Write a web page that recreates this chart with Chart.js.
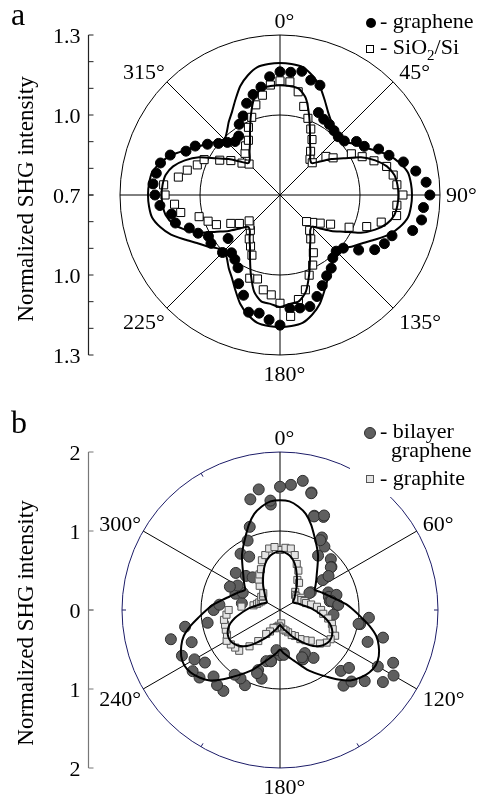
<!DOCTYPE html>
<html>
<head>
<meta charset="utf-8">
<script src="https://cdn.jsdelivr.net/npm/chart.js@4.4.1/dist/chart.umd.min.js"></script>
<style>
  html, body { margin: 0; padding: 0; background: #fff; }
  canvas { display: block; }
</style>
</head>
<body>
<canvas id="chartA" width="478" height="400"></canvas>
<canvas id="chartB" width="478" height="401"></canvas>
<script>
// polar angle grid (degrees, clockwise from top), shared by both panels
const angles = [0,5,10,15,20,25,30,35,40,45,50,55,60,65,70,75,80,85,
  90,95,100,105,110,115,120,125,130,135,140,145,150,155,160,165,170,175,
  180,185,190,195,200,205,210,215,220,225,230,235,240,245,250,255,260,265,
  270,275,280,285,290,295,300,305,310,315,320,325,330,335,340,345,350,355];

// panel a
const graphene = [1.162,1.162,1.171,1.146,1.138,1.041,1.028,1.023,1.015,
  1.009,1.015,1.050,1.065,1.108,1.135,1.179,1.217,1.250,
  1.262,1.240,1.239,1.215,1.147,1.132,1.110,1.060,1.010,
  0.998,1.008,1.035,1.050,1.075,1.105,1.133,1.130,1.127,
  1.188,1.170,1.150,1.155,1.100,1.067,1.015,0.995,0.983,
  1.005,0.954,1.016,1.010,1.039,1.062,1.106,1.113,1.152,
  1.169,1.178,1.171,1.164,1.138,1.089,1.067,1.032,1.001,
  0.979,0.962,0.970,1.006,1.027,1.066,1.090,1.111,1.145];
const sio2 = [1.128,1.126,1.093,1.044,1.006,0.973,0.940,0.900,0.875,
  0.871,0.925,0.943,1.009,1.040,1.075,1.114,1.131,1.140,
  1.161,1.140,1.144,1.093,1.046,0.986,0.919,0.884,0.860,
  0.841,0.873,0.901,0.950,0.990,1.020,1.068,1.098,1.157,
  1.106,1.076,1.061,1.026,1.032,0.949,0.921,0.901,0.873,
  0.860,0.851,0.886,0.913,0.963,0.987,1.014,1.078,1.097,
  1.131,1.138,1.087,1.060,1.030,1.014,0.961,0.925,0.886,
  0.864,0.904,0.925,0.937,0.980,1.010,1.050,1.080,1.114];
const grapheneFit = [1.195,1.193,1.187,1.165,1.135,1.095,1.060,1.035,1.010,
  0.995,1.010,1.035,1.060,1.095,1.135,1.165,1.187,1.193,
  1.195,1.193,1.187,1.165,1.135,1.095,1.060,1.035,1.010,
  0.995,1.010,1.035,1.060,1.095,1.135,1.165,1.187,1.193,
  1.195,1.193,1.187,1.165,1.135,1.095,1.060,1.035,1.010,
  0.995,1.010,1.035,1.060,1.095,1.135,1.165,1.187,1.193,
  1.195,1.193,1.187,1.165,1.135,1.095,1.060,1.035,1.010,
  0.995,1.010,1.035,1.060,1.095,1.135,1.165,1.187,1.193];
const sio2Fit = [1.112,1.110,1.105,1.075,1.019,0.966,0.925,0.899,0.876,
  0.869,0.895,0.935,0.975,1.035,1.080,1.115,1.135,1.142,
  1.144,1.142,1.135,1.115,1.080,1.035,0.975,0.935,0.895,
  0.869,0.876,0.899,0.925,0.966,1.019,1.075,1.105,1.110,
  1.120,1.110,1.105,1.075,1.019,0.966,0.925,0.899,0.876,
  0.869,0.895,0.935,0.975,1.035,1.080,1.115,1.135,1.142,
  1.144,1.142,1.135,1.115,1.080,1.035,0.975,0.935,0.895,
  0.869,0.876,0.899,0.925,0.966,1.019,1.075,1.105,1.110];
const ticksA = [0.7, 1.0, 1.3];
const minorTicksA = [0.8, 0.9, 1.1, 1.2];
const angleLabelsA = [0, 45, 90, 135, 180, 225, 315];

// panel b
const bilayer = [1.56,1.59,1.66,1.54,1.27,1.30,1.06,0.98,null,
  0.91,0.85,0.66,0.45,null,0.65,0.64,0.64,0.72,
  null,0.68,1.03,1.35,1.18,1.58,1.66,1.59,1.40,
  1.09,1.25,0.74,0.63,0.69,null,null,null,0.55,
  0.57,0.51,0.65,0.67,0.81,1.05,1.00,1.25,1.24,
  1.19,1.33,1.16,1.25,1.37,1.19,1.43,1.22,null,
  0.84,0.77,0.49,null,0.60,0.52,0.62,null,0.73,
  0.61,0.54,0.87,0.78,0.97,1.12,1.45,1.55,1.34];
const bilayerExtra = [null,null,null,1.53,1.26,1.32,1.02,0.84,null,
  null,0.84,0.75,0.43,null,null,0.74,0.66,0.74,
  null,1.13,1.01,null,null,null,1.43,null,1.14,
  1.28,null,null,null,0.66,null,null,null,0.57,
  null,null,0.66,0.90,0.85,null,null,1.00,null,
  null,null,1.35,null,null,null,null,0.93,null,
  null,null,null,null,null,0.70,null,null,null,
  null,null,null,null,null,null,null,null,1.39];
const graphite = [0.76,0.79,0.79,0.72,0.62,0.55,0.44,0.42,0.30,
  0.27,0.27,0.25,0.31,0.30,0.33,0.34,0.40,0.47,
  0.52,0.55,0.62,0.68,0.71,0.77,0.74,0.72,0.66,
  0.55,0.50,0.45,0.38,0.35,0.30,0.27,0.25,0.17,
  0.22,0.20,0.22,0.24,0.24,0.30,0.35,0.48,0.60,
  0.73,0.74,0.76,0.78,0.74,0.73,0.72,0.72,0.68,
  0.65,0.49,0.34,0.30,0.28,0.26,0.25,0.29,0.28,
  0.30,0.40,0.47,0.52,0.57,0.67,0.72,0.79,0.80];
const bilayerFit = [1.39,1.38,1.33,1.26,1.15,1.03,0.93,0.84,0.74,0.66,0.60,0.55,
  0.51,0.55,0.60,0.66,0.74,0.84,0.93,1.03,1.15,1.26,1.33,1.38,
  1.40,1.38,1.33,1.26,1.15,1.03,0.93,0.84,0.74,0.66,0.60,0.55,
  0.50,0.55,0.60,0.66,0.74,0.84,0.93,1.03,1.15,1.26,1.33,1.38,
  1.40,1.38,1.33,1.26,1.15,1.03,0.93,0.84,0.74,0.66,0.60,0.55,
  0.51,0.55,0.60,0.66,0.74,0.84,0.93,1.03,1.15,1.26,1.33,1.38];
const graphiteFit = [0.74,0.73,0.70,0.65,0.58,0.50,0.43,0.37,0.31,0.27,0.24,0.21,
  0.19,0.21,0.24,0.27,0.31,0.37,0.43,0.50,0.58,0.65,0.70,0.73,
  0.74,0.73,0.70,0.65,0.58,0.50,0.43,0.37,0.31,0.27,0.24,0.21,
  0.19,0.21,0.24,0.27,0.31,0.37,0.43,0.50,0.58,0.65,0.70,0.73,
  0.74,0.73,0.70,0.65,0.58,0.50,0.43,0.37,0.31,0.27,0.24,0.21,
  0.19,0.21,0.24,0.27,0.31,0.37,0.43,0.50,0.58,0.65,0.70,0.73];
const ticksB = [0, 1, 2];
const angleLabelsB = [0, 60, 120, 180, 240, 300];
const rimTicksB = [30, 90, 150, 210, 270, 330];

const FONT = '"Liberation Serif", "Times New Roman", serif';
const NAVY = '#1c1c68';
const TITLE = 'Normalized SHG intensity';

function fitLine(data) {
  return { data, showLine: true, fill: false, borderColor: '#000', borderWidth: 2,
    pointRadius: 0, tension: 0.25 };
}
function markers(data, style, fillColor, edge, radius) {
  return { data, showLine: false, fill: false, pointStyle: style, pointRadius: radius,
    pointBackgroundColor: fillColor, pointBorderColor: edge, pointBorderWidth: 1 };
}

// draws angle labels, the side intensity axis, title, panel letter and legend
function decorations(panel) {
  return {
    id: 'decor' + panel.letter,
    afterDraw(chart) {
      const ctx = chart.ctx;
      const r = chart.scales.r;
      const R = r.drawingArea;
      const yc = r.yCenter;
      ctx.save();

      // small rim ticks
      if (panel.rimTicks) {
        ctx.strokeStyle = NAVY; ctx.lineWidth = 1;
        panel.rimTicks.forEach(a => {
          const i = angles.indexOf(a);
          const p1 = r.getPointPosition(i, R), p2 = r.getPointPosition(i, R - 4);
          ctx.beginPath(); ctx.moveTo(p1.x, p1.y); ctx.lineTo(p2.x, p2.y); ctx.stroke();
        });
      }

      // angle labels
      ctx.fillStyle = '#000';
      ctx.font = '22px ' + FONT;
      ctx.textBaseline = 'alphabetic';
      panel.angleLabels.forEach(a => {
        const i = angles.indexOf(a);
        const p = r.getPointPosition(i, R);
        const s = Math.sin(a * Math.PI / 180), c = Math.cos(a * Math.PI / 180);
        const y = c > 0 ? p.y + 7 - 14 * c : p.y + 7 - 19 * c;
        let x;
        if (s > 0.1) { ctx.textAlign = 'left'; x = p.x + 6; }
        else if (s < -0.1) { ctx.textAlign = 'right'; x = p.x - 2; }
        else { ctx.textAlign = 'left'; x = p.x - ctx.measureText(String(a)).width / 2; }
        ctx.fillText(a + '°', x, y);
      });

      // side axis
      const ax = 88.5;
      ctx.strokeStyle = panel.axisColor; ctx.lineWidth = 1.2;
      ctx.beginPath(); ctx.moveTo(ax, yc - R); ctx.lineTo(ax, yc + R); ctx.stroke();
      ctx.lineWidth = 1;
      panel.ticks.concat(panel.minorTicks).forEach(v => {
        const d = r.getDistanceFromCenterForValue(v);
        [yc - d, yc + d].forEach(y => {
          ctx.beginPath(); ctx.moveTo(ax, y); ctx.lineTo(ax + 5, y); ctx.stroke();
        });
      });
      ctx.textAlign = 'right';
      panel.ticks.forEach(v => {
        const d = r.getDistanceFromCenterForValue(v);
        const txt = panel.fmt(v);
        ctx.fillText(txt, ax - 8, yc - d + 8);
        if (d > 0) ctx.fillText(txt, ax - 8, yc + d + 8);
      });

      // axis title
      ctx.save();
      ctx.font = '23px ' + FONT;
      ctx.translate(33, yc + panel.titleShift);
      ctx.rotate(-Math.PI / 2);
      ctx.textAlign = 'center';
      ctx.fillText(TITLE, 0, 0);
      ctx.restore();

      // panel letter
      ctx.font = '32px ' + FONT;
      ctx.textAlign = 'left';
      ctx.fillText(panel.letter, 11, panel.letterY);

      panel.legend(ctx);
      ctx.restore();
    }
  };
}

function legendA(ctx) {
  ctx.font = '22px ' + FONT;
  ctx.textAlign = 'left';
  ctx.fillStyle = '#000';
  ctx.beginPath(); ctx.arc(371, 23, 5, 0, 2 * Math.PI); ctx.fill();
  ctx.fillText('- graphene', 380, 28);
  ctx.fillStyle = '#fff'; ctx.strokeStyle = '#000'; ctx.lineWidth = 1;
  ctx.fillRect(366.5, 45.5, 7, 7); ctx.strokeRect(366.5, 45.5, 7, 7);
  ctx.fillStyle = '#000';
  let x = 380;
  ctx.fillText('- SiO', x, 54); x += ctx.measureText('- SiO').width;
  ctx.font = '15px ' + FONT;
  ctx.fillText('2', x, 60); x += ctx.measureText('2').width;
  ctx.font = '22px ' + FONT;
  ctx.fillText('/Si', x, 54);
}

function legendB(ctx) {
  ctx.fillStyle = '#fff';
  ctx.fillRect(350, 20, 128, 77);
  ctx.font = '22px ' + FONT;
  ctx.textAlign = 'left';
  ctx.fillStyle = '#5f5f5f'; ctx.strokeStyle = '#2e2e2e'; ctx.lineWidth = 1;
  ctx.beginPath(); ctx.arc(370, 33, 5.5, 0, 2 * Math.PI); ctx.fill(); ctx.stroke();
  ctx.fillStyle = '#000';
  ctx.fillText('- bilayer', 380, 38);
  ctx.fillText('graphene', 391, 57);
  ctx.fillStyle = '#e4e4e4'; ctx.strokeStyle = '#555';
  ctx.fillRect(366.5, 75.5, 7, 7); ctx.strokeRect(366.5, 75.5, 7, 7);
  ctx.fillStyle = '#000';
  ctx.fillText('- graphite', 380, 85);
}

function radialScale(min, max, step, angleStep, rimColor) {
  return {
    min, max,
    startAngle: 0,
    ticks: { display: false, stepSize: step },
    pointLabels: { display: false },
    grid: { circular: true, lineWidth: 1,
      color: (c) => (c.tick && c.tick.value === max ? rimColor : '#000') },
    angleLines: { display: true, color: '#000',
      lineWidth: (c) => (angles[c.index] % angleStep === 0 ? 1 : 0) }
  };
}

const common = {
  responsive: false,
  animation: false,
  events: [],
  plugins: { legend: { display: false }, tooltip: { enabled: false } }
};

new Chart(document.getElementById('chartA'), {
  type: 'radar',
  data: {
    labels: angles,
    datasets: [
      fitLine(grapheneFit),
      fitLine(sio2Fit),
      markers(sio2, 'rect', '#fff', '#000', 5.7),
      markers(graphene, 'circle', '#000', '#000', 5)
    ]
  },
  options: Object.assign({}, common, {
    layout: { padding: { left: 120, right: 38, top: 35, bottom: 45 } },
    scales: { r: radialScale(0.7, 1.3, 0.3, 45, '#000') }
  }),
  plugins: [decorations({
    letter: 'a', letterY: 25, axisColor: '#222', ticks: ticksA, minorTicks: minorTicksA,
    fmt: (v) => v.toFixed(1), angleLabels: angleLabelsA, titleShift: 4, legend: legendA
  })]
});

new Chart(document.getElementById('chartB'), {
  type: 'radar',
  data: {
    labels: angles,
    datasets: [
      fitLine(bilayerFit),
      fitLine(graphiteFit),
      markers(graphite, 'rect', '#e4e4e4', '#555', 5),
      markers(bilayerExtra, 'circle', '#5f5f5f', '#2e2e2e', 5.5),
      markers(bilayer, 'circle', '#5f5f5f', '#2e2e2e', 5.5)
    ]
  },
  options: Object.assign({}, common, {
    layout: { padding: { left: 122, right: 40, top: 52, bottom: 33 } },
    scales: { r: radialScale(0, 2, 1, 60, NAVY) }
  }),
  plugins: [decorations({
    letter: 'b', letterY: 33, axisColor: '#777', ticks: ticksB, minorTicks: [],
    fmt: (v) => String(v), angleLabels: angleLabelsB, rimTicks: rimTicksB, titleShift: 13,
    legend: legendB
  })]
});
</script>
</body>
</html>
